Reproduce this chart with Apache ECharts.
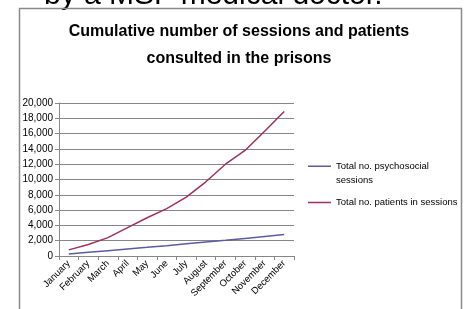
<!DOCTYPE html>
<html>
<head>
<meta charset="utf-8">
<script src="https://cdn.jsdelivr.net/npm/echarts@6/dist/echarts.min.js"></script>
<style>
  html, body { margin: 0; padding: 0; background: #fff; }
  #main { width: 473px; height: 309px; }
</style>
</head>
<body>
<div id="main"></div>
<script>
var font = "'Liberation Sans', Arial, sans-serif"

// data
const months = ['January', 'February', 'March', 'April', 'May', 'June', 'July',
  'August', 'September', 'October', 'November', 'December']
const sessions = [250, 480, 700, 920, 1130, 1350, 1600, 1830, 2050, 2300, 2550, 2800]
const patients = [800, 1500, 2400, 3700, 5000, 6200, 7700, 9700, 12000, 13800, 16300, 18900]
const seriesNames = ['Total no. psychosocial sessions', 'Total no. patients in sessions']
const titleLines = ['Cumulative number of sessions and patients', 'consulted in the prisons']

var myChart = echarts.init(document.getElementById('main'))

myChart.setOption({
  animation: false,
  textStyle: { fontFamily: font },
  graphic: [
    {
      type: 'text', left: 44, top: -19,
      style: { text: 'by a MSF medical doctor.', fontSize: 30, fontFamily: font, fill: '#000' }
    },
    {
      type: 'rect', shape: { x: 19.5, y: 8.5, width: 442, height: 400 },
      style: { fill: 'none', stroke: '#8a8a8a', lineWidth: 1.5 }
    }
  ],
  title: {
    text: titleLines.join('\n'),
    left: 234, top: 13, textAlign: 'center',
    textStyle: { fontSize: 16, fontWeight: 'bold', lineHeight: 27, color: '#000', fontFamily: font }
  },
  grid: { left: 59, right: 179, top: 103, bottom: 53 },
  legend: {
    orient: 'vertical', left: 308, top: 159, itemGap: 8, padding: 0,
    itemWidth: 23, itemHeight: 15,
    textStyle: { fontSize: 9.5, color: '#000', lineHeight: 14 },
    data: [
      { name: seriesNames[0], icon: 'path://M0,0L23,0L23,1.6L0,1.6ZM0,15L0.01,15L0.01,15.01Z' },
      { name: seriesNames[1], icon: 'path://M0,0L0.01,0L0.01,0.01ZM0,6.7L23,6.7L23,8.3L0,8.3ZM0,15L0.01,15L0.01,15.01Z' }
    ],
    formatter: function (n) {
      return n === seriesNames[0] ? 'Total no. psychosocial\nsessions' : n
    }
  },
  xAxis: {
    type: 'category',
    data: months,
    boundaryGap: true,
    axisLine: { lineStyle: { color: '#868686' } },
    axisTick: { show: true, interval: 0, length: 4, lineStyle: { color: '#868686' } },
    axisLabel: { interval: 0, rotate: 45, fontSize: 9.5, color: '#000', margin: 6 }
  },
  yAxis: {
    type: 'value',
    min: 0, max: 20000, interval: 2000,
    axisLine: { show: true, lineStyle: { color: '#868686' } },
    axisTick: { show: true, length: 4, lineStyle: { color: '#868686' } },
    splitLine: { lineStyle: { color: '#868686' } },
    axisLabel: {
      fontSize: 10, color: '#000', margin: 6,
      formatter: function (v) { return v.toLocaleString('en-US') }
    }
  },
  series: [
    {
      name: seriesNames[0], type: 'line', data: sessions,
      symbol: 'none', color: '#5b5ba6', lineStyle: { width: 1.5 }
    },
    {
      name: seriesNames[1], type: 'line', data: patients,
      symbol: 'none', color: '#a0305f', lineStyle: { width: 1.5 }
    }
  ]
})
</script>
</body>
</html>
